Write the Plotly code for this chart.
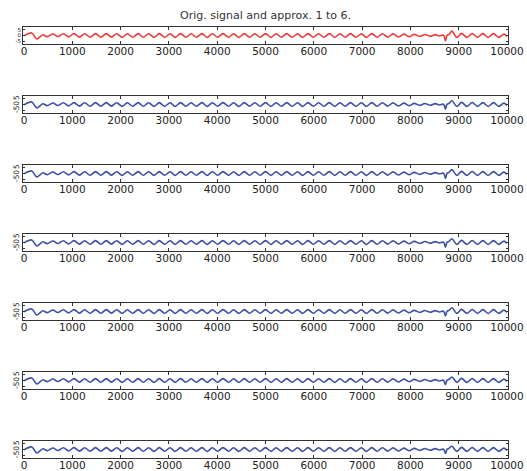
import plotly.graph_objects as go

# Sample positions of the turning points of the signal (x) and their values
sig_x = [0, 160, 265, 390, 480, 600, 700, 815, 925, 1035, 1150, 1255, 1370, 1480,
         1590, 1705, 1810, 1920, 2035, 2140, 2250, 2365, 2470, 2580, 2695, 2800,
         2910, 3025, 3130, 3240, 3350, 3460, 3570, 3685, 3790, 3900, 4010, 4120,
         4235, 4340, 4450, 4560, 4670, 4780, 4890, 5000, 5115, 5220, 5330, 5440,
         5550, 5665, 5770, 5880, 5990, 6100, 6210, 6320, 6435, 6540, 6650, 6760,
         6870, 6985, 7090, 7200, 7310, 7420, 7530, 7640, 7750, 7865, 7970, 8080,
         8190, 8300, 8410, 8510, 8600, 8675, 8700, 8725, 8760, 8800, 8860, 8960,
         9060, 9170, 9280, 9390, 9500, 9610, 9720, 9830, 9935, 10000]

orig_vals = [-0.3, 2.2, -3.0, 0.6, -1.0, 1.3, -0.9, 1.5, -1.2, 1.6, -1.4, 1.5, -1.5, 1.6,
             -1.5, 1.6, -1.4, 1.5, -1.6, 1.5, -1.5, 1.6, -1.5, 1.5, -1.6, 1.6,
             -1.5, 1.5, -1.6, 1.6, -1.5, 1.5, -1.5, 1.6, -1.6, 1.5, -1.5, 1.6,
             -1.5, 1.5, -1.6, 1.6, -1.5, 1.5, -1.5, 1.6, -1.6, 1.5, -1.5, 1.6,
             -1.5, 1.5, -1.6, 1.6, -1.5, 1.5, -1.5, 1.6, -1.6, 1.5, -1.5, 1.6,
             -1.5, 1.5, -1.6, 1.6, -1.5, 1.5, -1.4, 1.4, -1.3, 1.2, -1.1, 1.0,
             -0.8, 0.9, -0.7, 0.8, -0.4, 0.3, -0.6, -4.8, 0.2, 1.0, 3.8, -1.6,
             1.8, -1.6, 1.7, -1.6, 1.6, -1.7, 1.6, -1.6, 1.2, -0.8]

# Approximations 1..6: values at the break (sample 8725) and the rebound (8860)
approx_dip = [-4.0, -4.2, -4.0, -3.8, -3.6, -3.4]
approx_peak = [3.2, 3.4, 3.3, 3.2, 3.0, 2.8]

x_ticks = list(range(0, 10001, 1000))
y_ticks = [-5, 0, 5]

title_text = "Orig. signal and approx. 1 to 6."

W, H = 527, 471
plot_left, plot_right = 24, 507
first_top, panel_h, last_bottom = 28, 15, 457
n_panels = 7
step = (last_bottom - panel_h - first_top) / (n_panels - 1)
bottom_margin = H - last_bottom
area_h = H - first_top - bottom_margin

RED = "#f23a3a"
BLUE = "#3c50a8"
AX = "#333333"
FONT = "DejaVu Sans"

dip_i = sig_x.index(8725)
peak_i = sig_x.index(8860)

fig = go.Figure()
for i in range(n_panels):
    yv = list(orig_vals)
    if i == 0:
        color = RED
    else:
        yv[dip_i] = approx_dip[i - 1]
        yv[peak_i] = approx_peak[i - 1]
        color = BLUE
    sfx = "" if i == 0 else str(i + 1)
    fig.add_trace(go.Scatter(
        x=sig_x, y=yv, mode="lines",
        line=dict(color=color, width=1.6, shape="spline", smoothing=0.9),
        xaxis="x" + sfx, yaxis="y" + sfx, showlegend=False, hoverinfo="skip"))

    top = first_top + i * step
    bot = top + panel_h
    y0 = max(0.0, 1 - (bot - first_top) / area_h)
    y1 = min(1.0, 1 - (top - first_top) / area_h)
    xa = dict(domain=[0, 1], range=[0, 10000], tickvals=x_ticks,
              ticktext=[str(v) for v in x_ticks], ticks="inside", ticklen=3,
              tickcolor=AX, showline=True, linecolor=AX, linewidth=1,
              mirror="ticks", showgrid=False, zeroline=False, automargin=False,
              ticklabelstandoff=-3,
              tickfont=dict(family=FONT, size=10.5, color="#222"),
              anchor="y" + sfx)
    ya = dict(domain=[y0, y1], range=[-6.5, 6.5], tickvals=y_ticks,
              ticktext=[str(v) for v in y_ticks], ticks="inside", ticklen=2,
              tickcolor=AX, showline=True, linecolor=AX, linewidth=1,
              mirror="ticks", showgrid=False, zeroline=False, automargin=False,
              tickangle=0 if i == 0 else -90,
              tickfont=dict(family=FONT, size=5.5 if i == 0 else 7.5, color="#222"),
              anchor="x" + sfx)
    fig.update_layout({"xaxis" + sfx: xa, "yaxis" + sfx: ya})

fig.update_layout(
    width=W, height=H,
    margin=dict(l=plot_left, r=W - plot_right, t=first_top, b=bottom_margin, pad=1,
                autoexpand=False),
    paper_bgcolor="white", plot_bgcolor="white",
    title=dict(text=title_text, x=(plot_left + plot_right) / 2 / W, xanchor="center",
               y=1 - 15 / H, yanchor="middle", automargin=False,
               font=dict(family=FONT, size=11, color="#333")),
)

fig.write_html("out.html")
